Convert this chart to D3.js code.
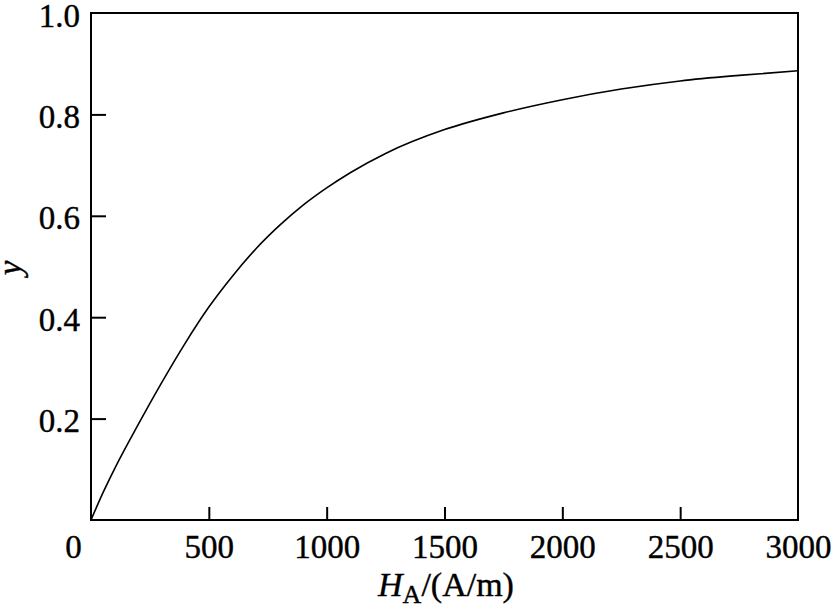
<!DOCTYPE html>
<html>
<head>
<meta charset="utf-8">
<script src="https://cdn.jsdelivr.net/npm/d3@7"></script>
<style>
  html, body { margin: 0; padding: 0; background: #fff; }
  svg text { font-family: "Liberation Serif", "Times New Roman", serif; fill: #000; stroke: #000; stroke-width: 0.4px; }
</style>
</head>
<body>
<svg id="chart" width="835" height="609"></svg>
<script>
// Data
const hValues = [0, 50, 100, 200, 300, 400, 500, 600, 700, 800, 900, 1000, 1100, 1250, 1500, 1750, 2000, 2250, 2500, 2750, 3000];
const yValues = [0, 0.053, 0.101, 0.188, 0.271, 0.349, 0.420, 0.481, 0.535, 0.581, 0.621, 0.655, 0.685, 0.723, 0.770, 0.803, 0.829, 0.850, 0.866, 0.877, 0.886];
const xTicks = [0, 500, 1000, 1500, 2000, 2500, 3000];
const yTicks = [0.2, 0.4, 0.6, 0.8, 1.0];

const svg = d3.select("#chart");
const mLeft = 91, mRight = 798, mTop = 13, mBottom = 520;

const x = d3.scaleLinear().domain([0, 3000]).range([mLeft, mRight]);
const y = d3.scaleLinear().domain([0, 1]).range([mBottom, mTop]);

// curve
const data = hValues.map((h, i) => [h, yValues[i]]);
svg.append("path")
  .datum(data)
  .attr("fill", "none")
  .attr("stroke", "#000")
  .attr("stroke-width", 1.6)
  .attr("d", d3.line().x(d => x(d[0])).y(d => y(d[1])).curve(d3.curveMonotoneX));

// x axis (ticks inward)
const xAxis = svg.append("g")
  .attr("transform", `translate(0,${mBottom})`)
  .call(d3.axisBottom(x).tickValues(xTicks).tickSize(-13).tickSizeOuter(0).tickPadding(0)
    .tickFormat(d3.format("d")));
xAxis.select(".domain").remove();
xAxis.selectAll(".tick line").attr("stroke", "#000").attr("stroke-width", 2)
  .filter(d => d === 0 || d === 3000).remove();
xAxis.selectAll(".tick text")
  .attr("font-size", 33)
  .attr("y", 38)
  .attr("dy", 0)
  .attr("dx", d => d === 0 ? -18 : 0);

// y axis (ticks inward)
const yAxis = svg.append("g")
  .attr("transform", `translate(${mLeft},0)`)
  .call(d3.axisLeft(y).tickValues(yTicks).tickSize(-15).tickSizeOuter(0).tickPadding(0)
    .tickFormat(d3.format(".1f")));
yAxis.select(".domain").remove();
yAxis.selectAll(".tick line").attr("stroke", "#000").attr("stroke-width", 2)
  .filter(d => d === 1.0).remove();
yAxis.selectAll(".tick text")
  .attr("font-size", 33)
  .attr("x", -11)
  .attr("dy", 0)
  .attr("y", 13);

// frame
svg.append("rect")
  .attr("x", mLeft).attr("y", mTop)
  .attr("width", mRight - mLeft).attr("height", mBottom - mTop)
  .attr("fill", "none").attr("stroke", "#000").attr("stroke-width", 2);

// axis titles
const xt = svg.append("text")
  .attr("x", 446).attr("y", 596)
  .attr("text-anchor", "middle")
  .attr("font-size", 34);
xt.append("tspan").attr("font-style", "italic").text("H");
xt.append("tspan").attr("font-size", 26).attr("dy", 7).text("A");
xt.append("tspan").attr("dy", -7).text("/(A/m)");

svg.append("text")
  .attr("transform", `translate(21,268) rotate(-90)`)
  .attr("text-anchor", "middle")
  .attr("font-size", 33)
  .attr("font-style", "italic")
  .text("y");
</script>
</body>
</html>
